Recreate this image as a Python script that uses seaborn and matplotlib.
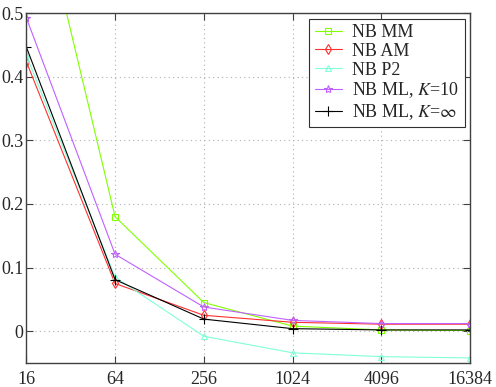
import matplotlib
matplotlib.use("Agg")
import matplotlib.pyplot as plt
import numpy as np
import pandas as pd
import seaborn as sns

# ── Data ──────────────────────────────────────────────────────────────────
n_samples = [16, 64, 256, 1024, 4096, 16384]
tick_labels = ["16", "64", "256", "1024", "4096", "16384"]

nb_mm = [0.765, 0.180, 0.045, 0.008, 0.002, 0.001]
nb_am = [0.424, 0.075, 0.025, 0.014, 0.011, 0.011]
nb_p2 = [0.434, 0.085, -0.008, -0.034, -0.040, -0.042]
nb_ml10 = [0.493, 0.121, 0.038, 0.017, 0.012, 0.012]
nb_mlinf = [0.447, 0.081, 0.019, 0.004, 0.002, 0.002]

series = [
    ("NB MM", nb_mm, "#80ff00", "s", 5),
    ("NB AM", nb_am, "#ff3030", "d", 5),
    ("NB P2", nb_p2, "#80ffd8", "^", 5),
    (r"NB ML, $K$=10", nb_ml10, "#c060ff", "*", 6),
    (r"NB ML, $K$=$\infty$", nb_mlinf, "#000000", "+", 7),
]

sns.set_style("ticks")
plt.rcParams["font.family"] = ["Liberation Serif", "DejaVu Serif"]
plt.rcParams["mathtext.fontset"] = "stix"

fig = plt.figure(figsize=(4.96, 3.87), dpi=100)
ax = fig.add_axes([0.053, 0.062, 0.895, 0.904])

for label, vals, color, marker, ms in series:
    df = pd.DataFrame({"n": n_samples, "err": vals})
    sns.lineplot(data=df, x="n", y="err", ax=ax, color=color, marker=marker,
                 markersize=ms, markerfacecolor="none", markeredgecolor=color,
                 markeredgewidth=0.8, linewidth=0.8, label=label)

ax.set_xscale("log", base=2)
ax.set_xlim(16, 16384)
ax.set_ylim(-0.05, 0.5)
ax.set_xticks(n_samples)
ax.set_xticklabels(tick_labels)
ax.minorticks_off()
ax.set_yticks([0, 0.1, 0.2, 0.3, 0.4, 0.5])
ax.set_yticklabels(["0", "0.1", "0.2", "0.3", "0.4", "0.5"])
ax.set_xlabel("")
ax.set_ylabel("")

ax.tick_params(direction="in", top=True, right=True, labelsize=13, length=5,
               color="#404040", pad=6)
ax.tick_params(axis="y", pad=2)
for sp in ax.spines.values():
    sp.set_color("#404040")
    sp.set_linewidth(1.0)
ax.grid(True, linestyle=(0, (1, 3)), color="#b0b0b0", linewidth=0.8)

leg = ax.legend(loc="upper right", fontsize=13, frameon=True, fancybox=False,
                framealpha=1, edgecolor="#303030", handlelength=1.5,
                borderpad=0.3, labelspacing=0.1, handletextpad=0.6,
                borderaxespad=0.3)
leg.get_frame().set_linewidth(0.8)

fig.savefig("out.png", dpi=100)
